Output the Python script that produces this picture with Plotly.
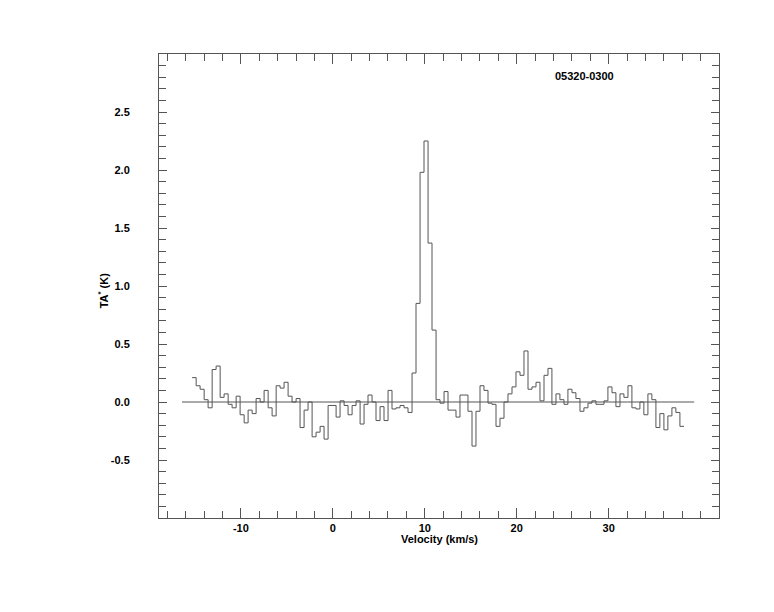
import plotly.graph_objects as go

# Channel centre velocities (km/s)
velocity = [
    -15.08, -14.64, -14.21, -13.77, -13.34, -12.90, -12.47, -12.03, -11.60, -11.16,
    -10.73, -10.29, -9.86, -9.42, -8.99, -8.55, -8.12, -7.68, -7.25, -6.81,
    -6.38, -5.94, -5.51, -5.08, -4.64, -4.21, -3.77, -3.34, -2.90, -2.47,
    -2.03, -1.60, -1.16, -0.73, -0.29, 0.14, 0.58, 1.01, 1.45, 1.88,
    2.32, 2.75, 3.19, 3.62, 4.05, 4.49, 4.92, 5.36, 5.79, 6.23,
    6.66, 7.10, 7.53, 7.97, 8.40, 8.84, 9.27, 9.71, 10.14, 10.58,
    11.01, 11.45, 11.88, 12.32, 12.75, 13.18, 13.62, 14.05, 14.49, 14.92,
    15.36, 15.79, 16.23, 16.66, 17.10, 17.53, 17.97, 18.40, 18.84, 19.27,
    19.71, 20.14, 20.58, 21.01, 21.45, 21.88, 22.32, 22.75, 23.19, 23.62,
    24.05, 24.49, 24.92, 25.36, 25.79, 26.23, 26.66, 27.10, 27.53, 27.97,
    28.40, 28.84, 29.27, 29.71, 30.14, 30.58, 31.01, 31.45, 31.88, 32.32,
    32.75, 33.19, 33.62, 34.05, 34.49, 34.92, 35.36, 35.79, 36.23, 36.66,
    37.10, 37.53, 37.97,
]

# Antenna temperature TA* (K)
ta = [
    0.21, 0.14, 0.11, 0.02, -0.05, 0.28, 0.31, 0.04, 0.07, -0.02,
    -0.05, 0.05, -0.11, -0.18, -0.07, -0.10, 0.03, 0.00, 0.10, -0.05,
    -0.12, 0.14, 0.12, 0.17, 0.05, 0.00, 0.03, -0.22, -0.07, 0.00,
    -0.30, -0.26, -0.21, -0.32, -0.03, -0.03, -0.13, 0.01, -0.03, -0.11,
    -0.03, 0.01, -0.19, -0.02, 0.06, 0.00, -0.16, -0.04, -0.16, 0.10,
    -0.06, -0.05, -0.03, -0.05, -0.09, 0.25, 0.85, 1.98, 2.25, 1.37,
    0.62, 0.02, -0.01, 0.09, -0.07, -0.07, -0.13, 0.06, 0.06, -0.08,
    -0.38, -0.08, 0.14, 0.10, -0.01, -0.02, -0.21, -0.14, 0.00, 0.07,
    0.13, 0.26, 0.23, 0.44, 0.11, 0.13, 0.17, 0.01, 0.23, 0.29,
    -0.02, 0.07, 0.02, -0.02, 0.11, 0.08, 0.03, -0.08, -0.05, -0.01,
    0.01, -0.02, -0.02, 0.01, 0.13, 0.08, -0.04, 0.07, 0.04, 0.14,
    -0.05, -0.06, 0.00, -0.11, 0.07, 0.02, -0.22, -0.10, -0.24, -0.12,
    -0.05, -0.09, -0.21,
]

baseline_v = [-16.4, 39.3]
baseline_t = [0.0, 0.0]

x_tickvals = [-10, 0, 10, 20, 30]
x_ticktext = ["-10", "0", "10", "20", "30"]
y_tickvals = [-0.5, 0.0, 0.5, 1.0, 1.5, 2.0, 2.5]
y_ticktext = ["-0.5", "0.0", "0.5", "1.0", "1.5", "2.0", "2.5"]

source_name = "05320-0300"
x_title = "Velocity (km/s)"
y_title = "TA<sup>*</sup> (K)"

X_RANGE = [-18.9, 42.0]
Y_RANGE = [-1.0, 3.0]
LINE = "#555555"
FONT = "Liberation Sans"

# histogram (step) outline using channel edges
dv = velocity[1] - velocity[0]
edges = [v - dv / 2 for v in velocity] + [velocity[-1] + dv / 2]
steps = ta + [ta[-1]]

fig = go.Figure()
fig.add_trace(go.Scatter(x=edges, y=steps, mode="lines",
                         line=dict(shape="hv", color=LINE, width=1),
                         hoverinfo="skip", showlegend=False))
fig.add_trace(go.Scatter(x=baseline_v, y=baseline_t, mode="lines",
                         line=dict(color=LINE, width=1),
                         hoverinfo="skip", showlegend=False))
# invisible trace to activate mirrored axes
fig.add_trace(go.Scatter(x=[X_RANGE[0]], y=[Y_RANGE[0]], xaxis="x2", yaxis="y2",
                         mode="markers", marker=dict(opacity=0),
                         hoverinfo="skip", showlegend=False))

tickfont = dict(family=FONT, size=11, color="black", weight="bold")

fig.update_layout(
    width=774, height=612,
    margin=dict(l=151, r=63, t=46, b=102),
    paper_bgcolor="white", plot_bgcolor="white",
    showlegend=False,
    xaxis=dict(range=X_RANGE, showgrid=False, zeroline=False,
               showline=True, linecolor=LINE, linewidth=1,
               ticks="inside", ticklen=10, tickcolor=LINE, tickwidth=1,
               tickmode="array", tickvals=x_tickvals, ticktext=x_ticktext,
               tickfont=tickfont,
               minor=dict(ticks="inside", ticklen=7, tickcolor=LINE,
                          dtick=2, tick0=0, showgrid=False)),
    xaxis2=dict(range=X_RANGE, overlaying="x", side="top", anchor="y",
                showgrid=False, zeroline=False,
                showline=True, linecolor=LINE, linewidth=1,
                ticks="inside", ticklen=10, tickcolor=LINE,
                tickmode="array", tickvals=x_tickvals, showticklabels=False,
                minor=dict(ticks="inside", ticklen=7, tickcolor=LINE,
                           dtick=2, tick0=0, showgrid=False)),
    yaxis=dict(range=Y_RANGE, showgrid=False, zeroline=False,
               showline=True, linecolor=LINE, linewidth=1,
               ticks="inside", ticklen=8, tickcolor=LINE, tickwidth=1,
               tickmode="array", tickvals=y_tickvals, ticktext=y_ticktext,
               tickfont=tickfont, ticklabelstandoff=26,
               minor=dict(ticks="inside", ticklen=7, tickcolor=LINE,
                          dtick=0.1, tick0=0, showgrid=False)),
    yaxis2=dict(range=Y_RANGE, overlaying="y", side="right", anchor="x",
                showgrid=False, zeroline=False,
                showline=True, linecolor=LINE, linewidth=1,
                ticks="inside", ticklen=8, tickcolor=LINE,
                tickmode="array", tickvals=y_tickvals, showticklabels=False,
                minor=dict(ticks="inside", ticklen=7, tickcolor=LINE,
                           dtick=0.1, tick0=0, showgrid=False)),
    annotations=[
        dict(text=source_name, xref="paper", yref="paper", x=0.760, y=0.953,
             showarrow=False, xanchor="center", yanchor="middle",
             font=dict(family=FONT, size=11, color="black", weight="bold")),
        dict(text=x_title, xref="paper", yref="paper", x=0.5, y=-0.046,
             showarrow=False, xanchor="center", yanchor="middle",
             font=dict(family=FONT, size=11, color="black", weight="bold")),
        dict(text=y_title, xref="paper", yref="paper", x=-0.1005, y=0.49,
             showarrow=False, xanchor="center", yanchor="middle", textangle=-90,
             font=dict(family=FONT, size=11, color="black", weight="bold")),
    ],
)

fig.write_html("out.html")
